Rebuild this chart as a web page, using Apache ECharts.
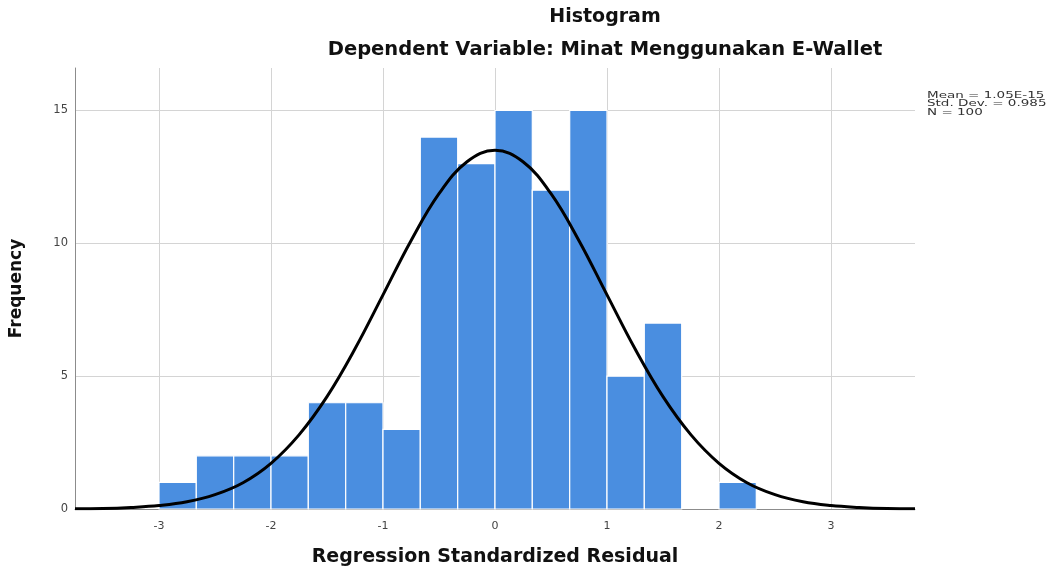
<!DOCTYPE html>
<html>
<head>
<meta charset="utf-8">
<script src="https://cdn.jsdelivr.net/npm/echarts@6/dist/echarts.min.js"></script>
<style>
html,body{margin:0;padding:0;background:#fff;}
#chart{width:1051px;height:572px;}
</style>
</head>
<body>
<div id="chart"></div>
<script>
// ---- data ----
const titleText = 'Histogram';
const subtitleText = 'Dependent Variable: Minat Menggunakan E-Wallet';
const xAxisName = 'Regression Standardized Residual';
const yAxisName = 'Frequency';
const statsLines = ['Mean = 1.05E-15', 'Std. Dev. = 0.985', 'N = 100'];

// histogram bin edges (17 edges -> 16 bins)
const binEdges = [-3, -2.667, -2.333, -2, -1.667, -1.333, -1, -0.667, -0.333, 0, 0.333, 0.667, 1, 1.333, 1.667, 2, 2.333];
// frequency per bin
const binCounts = [1, 2, 2, 2, 4, 4, 3, 14, 13, 15, 12, 15, 5, 7, 0, 1];

// normal curve
const curveX = [-3.75, -3.5, -3.25, -3, -2.75, -2.5, -2.25, -2, -1.75, -1.5, -1.25, -1, -0.75, -0.5, -0.25, 0,
                0.25, 0.5, 0.75, 1, 1.25, 1.5, 1.75, 2, 2.25, 2.5, 2.75, 3, 3.25, 3.5, 3.75];
const curveY = [0.01, 0.02, 0.06, 0.13, 0.27, 0.54, 0.99, 1.72, 2.79, 4.23, 6.03, 8.06, 10.10, 11.87, 13.07, 13.5,
                13.07, 11.87, 10.10, 8.06, 6.03, 4.23, 2.79, 1.72, 0.99, 0.54, 0.27, 0.13, 0.06, 0.02, 0.01];

// ---- build chart ----
const barData = binCounts.map((c, i) => [binEdges[i], binEdges[i + 1], c]);
const curveData = curveX.map((x, i) => [x, curveY[i]]);

const chart = echarts.init(document.getElementById('chart'));
chart.setOption({
  backgroundColor: '#ffffff',
  animation: false,
  title: {
    text: titleText,
    subtext: subtitleText,
    left: 605,
    top: 8,
    padding: 0,
    textAlign: 'center',
    itemGap: 13,
    textStyle: { fontFamily: 'DejaVu Sans', fontWeight: 'bold', fontSize: 19, color: '#111' },
    subtextStyle: { fontFamily: 'DejaVu Sans', fontWeight: 'bold', fontSize: 19.5, color: '#111' }
  },
  grid: { left: 75, right: 136, top: 68, bottom: 61, containLabel: false },
  xAxis: {
    type: 'value',
    min: -3.75,
    max: 3.75,
    splitNumber: 7,
    name: xAxisName,
    nameLocation: 'middle',
    nameGap: 39,
    nameTextStyle: { fontFamily: 'DejaVu Sans', fontWeight: 'bold', fontSize: 19, color: '#111' },
    axisLine: { show: true, onZero: false, lineStyle: { color: '#8c8c8c', width: 1 } },
    axisTick: { show: false },
    axisLabel: {
      showMinLabel: false, showMaxLabel: false,
      margin: 12,
      fontFamily: 'DejaVu Sans', fontSize: 11, color: '#444',
      formatter: v => (Math.abs(v - Math.round(v)) < 1e-6 ? String(Math.round(v)) : '')
    },
    splitLine: { show: true, showMinLine: false, showMaxLine: false, lineStyle: { color: '#d4d4d4', width: 1 } }
  },
  yAxis: {
    type: 'value',
    min: 0,
    max: 16.6,
    interval: 5,
    name: yAxisName,
    nameLocation: 'middle',
    nameRotate: 90,
    nameGap: 50,
    nameTextStyle: { fontFamily: 'DejaVu Sans', fontWeight: 'bold', fontSize: 17, color: '#111' },
    axisLine: { show: true, onZero: false, lineStyle: { color: '#8c8c8c', width: 1 } },
    axisTick: { show: false },
    axisLabel: {
      showMaxLabel: false,
      margin: 7,
      fontFamily: 'DejaVu Sans', fontSize: 11.5, color: '#444',
      formatter: v => (v % 5 === 0 ? String(v) : '')
    },
    splitLine: { show: true, showMinLine: false, showMaxLine: false, lineStyle: { color: '#d4d4d4', width: 1 } }
  },
  graphic: [{
    type: 'text',
    x: 927,
    y: 91,
    scaleX: 1.5,
    z: 10,
    style: {
      text: statsLines.join('\n'),
      font: '9px "DejaVu Sans"',
      lineHeight: 8.5,
      fill: '#333'
    }
  }],
  series: [
    {
      type: 'custom',
      z: 2,
      data: barData,
      encode: { x: [0, 1], y: 2 },
      renderItem: function (params, api) {
        const x0 = api.value(0), x1 = api.value(1), y = api.value(2);
        if (!y) return null;
        const pTop = api.coord([x0, y]);
        const pBot = api.coord([x1, 0]);
        return {
          type: 'rect',
          shape: { x: pTop[0], y: pTop[1], width: pBot[0] - pTop[0], height: pBot[1] - pTop[1] },
          style: { fill: '#4a8ee0', stroke: '#ffffff', lineWidth: 1.2 }
        };
      }
    },
    {
      type: 'line',
      z: 3,
      data: curveData,
      smooth: 0.4,
      showSymbol: false,
      lineStyle: { color: '#000000', width: 3 }
    }
  ]
});
</script>
</body>
</html>
